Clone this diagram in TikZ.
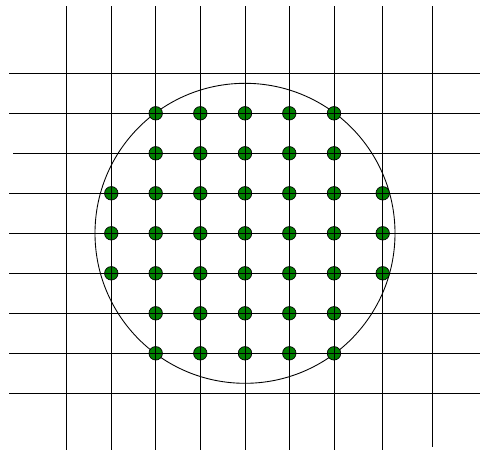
\documentclass[tikz,border=0pt]{standalone}
\usepackage{tikz}

\begin{document}
\begin{tikzpicture}[
    x=0.02cm, y=-0.02cm,
    gridline/.style={line width=0.5pt, black},
    ring/.style={line width=0.5pt, black},
    dot/.style={circle, draw=black, line width=0.4pt, fill=green!50!black, inner sep=0pt, minimum size=0.27cm}
  ]
    \useasboundingbox (0,0) rectangle (480,450);

    % circle
    \node[draw=none, inner sep=0pt] (mid) at (245,233.3) {};
    \draw[ring] (mid) circle[radius=150];

    % lattice points inside
    \foreach \px in {155.7,200.3,245,289.3,334}{
      \foreach \py in {113.3,153.3,313.3,353.3}{
        \node[dot] (d-\px-\py) at (\px,\py) {};
      }
    }
    \foreach \px in {111.3,155.7,200.3,245,289.3,334,382.7}{
      \foreach \py in {193.3,233.3,273.3}{
        \node[dot] (d-\px-\py) at (\px,\py) {};
      }
    }

    % grid
    \foreach \px in {66.7,111.3,155.7,200.3,245,289.3,334,382.7}{
      \draw[gridline] (\px,6) -- (\px,450);
    }
    \draw[gridline] (432,6) -- (432,446.7);
    \foreach \py/\xa/\xb in {73.3/9/480,113.3/9/480,153.3/13.3/480,193.3/9/480,233.3/9/480,273.3/9/476.7,313.3/9/480,353.3/9/480,393.3/9/480}{
      \draw[gridline] (\xa,\py) -- (\xb,\py);
    }
  \end{tikzpicture}
\end{document}
